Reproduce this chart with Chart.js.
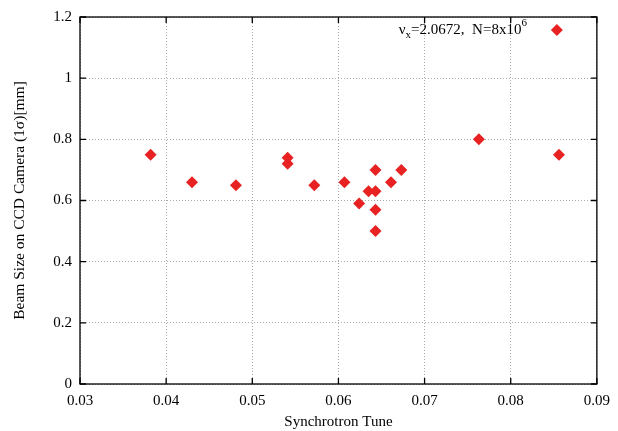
<!DOCTYPE html>
<html lang="en">
<head>
  <meta charset="UTF-8">
  <title>Beam Size vs Synchrotron Tune</title>
  <script src="https://cdn.jsdelivr.net/npm/chart.js"></script>
  <style>
    body { margin: 0; background: #ffffff; }
    .chart-container { width: 618px; height: 431px; }
  </style>
</head>
<body>
  <div class="chart-container">
    <canvas id="tuneChart"></canvas>
  </div>

  <script>
    // data
    const tuneValues = [0.0382, 0.0430, 0.0481, 0.0541, 0.0541, 0.0572, 0.0607, 0.0624, 0.0635,
                        0.0643, 0.0643, 0.0643, 0.0643, 0.0661, 0.0673, 0.0763, 0.0856];
    const beamSizes  = [0.75, 0.66, 0.65, 0.74, 0.72, 0.65, 0.66, 0.59, 0.63,
                        0.63, 0.70, 0.57, 0.50, 0.66, 0.70, 0.80, 0.75];
    const xTicks = [0.03, 0.04, 0.05, 0.06, 0.07, 0.08, 0.09];
    const yTicks = [0, 0.2, 0.4, 0.6, 0.8, 1, 1.2];
    const legendMain = '=2.0672,  N=8x10';
    const legendSup = '6';

    const pointColor = '#e82222';
    const serif = "'Liberation Serif', 'DejaVu Serif', serif";

    // frame, inward ticks on all four sides and the key
    const framePlugin = {
      id: 'frame',
      afterDraw(chart) {
        const c = chart.ctx;
        const a = chart.chartArea;
        const xs = chart.scales.x, ys = chart.scales.y;
        c.save();
        c.strokeStyle = '#000';
        c.lineWidth = 1.3;
        c.beginPath();
        xTicks.forEach(v => {
          const px = xs.getPixelForValue(v);
          c.moveTo(px, a.bottom); c.lineTo(px, a.bottom - 6);
          c.moveTo(px, a.top); c.lineTo(px, a.top + 6);
        });
        yTicks.forEach(v => {
          const py = ys.getPixelForValue(v);
          c.moveTo(a.left, py); c.lineTo(a.left + 6, py);
          c.moveTo(a.right, py); c.lineTo(a.right - 6, py);
        });
        c.stroke();
        c.strokeRect(a.left, a.top, a.right - a.left, a.bottom - a.top);

        // key
        const keyY = a.top + 13;
        const endX = a.right - 70;
        c.fillStyle = '#000';
        c.textBaseline = 'middle';
        c.font = '15px ' + serif;
        const wMain = c.measureText(legendMain).width;
        c.font = '11px ' + serif;
        const wSup = c.measureText(legendSup).width;
        const wSub = c.measureText('x').width;
        c.font = '15px ' + serif;
        const wNu = c.measureText('\u03bd').width;
        let x = endX - wSup - wMain - wSub - wNu;
        c.textAlign = 'left';
        c.fillText('\u03bd', x, keyY); x += wNu;
        c.font = '11px ' + serif;
        c.fillText('x', x, keyY + 5); x += wSub;
        c.font = '15px ' + serif;
        c.fillText(legendMain, x, keyY); x += wMain;
        c.font = '11px ' + serif;
        c.fillText(legendSup, x, keyY - 7);

        c.fillStyle = pointColor;
        c.beginPath();
        const kx = a.right - 40, r = 6;
        c.moveTo(kx, keyY - r); c.lineTo(kx + r, keyY); c.lineTo(kx, keyY + r); c.lineTo(kx - r, keyY);
        c.closePath();
        c.fill();
        c.restore();
      }
    };

    const ctx = document.getElementById('tuneChart').getContext('2d');
    new Chart(ctx, {
      type: 'scatter',
      data: {
        datasets: [{
          label: 'data',
          data: tuneValues.map((t, i) => ({ x: t, y: beamSizes[i] })),
          backgroundColor: pointColor,
          borderColor: pointColor,
          borderWidth: 0,
          pointStyle: 'rectRot',
          pointRadius: 6,
          pointHoverRadius: 6
        }]
      },
      options: {
        responsive: true,
        maintainAspectRatio: false,
        animation: false,
        layout: { padding: { top: 14, right: 20, left: 0, bottom: 0 } },
        plugins: {
          legend: { display: false },
          tooltip: { enabled: false }
        },
        scales: {
          x: {
            type: 'linear',
            min: 0.03,
            max: 0.09,
            afterBuildTicks: s => { s.ticks = xTicks.map(v => ({ value: v })); },
            afterFit: s => { s.height = 47; },
            ticks: {
              color: '#000',
              padding: 8,
              font: { family: serif, size: 15 },
              callback: v => v.toFixed(2)
            },
            grid: { color: '#aaaaaa', lineWidth: 1, drawTicks: false },
            border: { display: false, dash: [1, 2] },
            title: {
              display: true,
              text: 'Synchrotron Tune',
              color: '#000',
              font: { family: serif, size: 15 },
              padding: { top: 2, bottom: 0 }
            }
          },
          y: {
            type: 'linear',
            min: 0,
            max: 1.2,
            afterBuildTicks: s => { s.ticks = yTicks.map(v => ({ value: v })); },
            afterFit: s => { s.width = 80; },
            ticks: {
              color: '#000',
              padding: 8,
              font: { family: serif, size: 15 },
              callback: v => (v === 0 || v === 1) ? String(v) : v.toFixed(1)
            },
            grid: { color: '#aaaaaa', lineWidth: 1, drawTicks: false },
            border: { display: false, dash: [1, 2] },
            title: {
              display: true,
              text: 'Beam Size on CCD Camera (1\u03c3)[mm]',
              color: '#000',
              font: { family: serif, size: 15.5 },
              padding: { top: 11, bottom: 0 }
            }
          }
        }
      },
      plugins: [framePlugin]
    });
  </script>
</body>
</html>
